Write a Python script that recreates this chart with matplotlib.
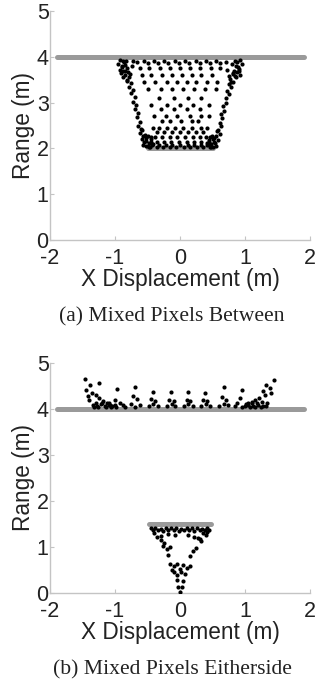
import matplotlib
matplotlib.use("Agg")
import matplotlib.pyplot as plt

# ---- panel (a): mixed pixels between ----
a_wall_x = [-1.9, 1.9]          # back wall at 4 m
a_wall_y = [4.0, 4.0]
a_box_x = [-0.5, 0.5]           # near object at 2 m
a_box_y = [2.0, 2.0]

a_left_x = [-0.93, -0.88, -0.95, -0.85, -0.90, -0.82, -0.88, -0.80, -0.84, -0.78,
            -0.82, -0.76, -0.79, -0.73, -0.76, -0.70, -0.72, -0.67, -0.69, -0.64,
            -0.66, -0.62, -0.64, -0.60, -0.62, -0.57, -0.59, -0.55, -0.57, -0.52,
            -0.48, -0.45, -0.50, -0.86, -0.91, -0.87, -0.83, -0.74, -0.58, -0.54,
            -0.92, -0.89, -0.84, -0.81, -0.77, -0.52, -0.49, -0.53, -0.47, -0.42]
a_left_y = [3.92, 3.90, 3.85, 3.82, 3.78, 3.75, 3.70, 3.66, 3.60, 3.55,
            3.48, 3.42, 3.35, 3.28, 3.20, 3.12, 3.02, 2.95, 2.85, 2.78,
            2.68, 2.58, 2.50, 2.42, 2.34, 2.28, 2.20, 2.14, 2.08, 2.05,
            2.12, 2.20, 2.28, 3.88, 3.65, 3.55, 3.90, 3.80, 2.40, 2.30,
            3.72, 3.80, 3.70, 3.50, 3.62, 2.22, 2.06, 2.16, 2.02, 2.10]
a_right_x = [0.93, 0.88, 0.95, 0.86, 0.91, 0.83, 0.87, 0.81, 0.85, 0.77,
             0.81, 0.75, 0.78, 0.72, 0.75, 0.70, 0.71, 0.66, 0.68, 0.63,
             0.65, 0.61, 0.63, 0.59, 0.61, 0.56, 0.58, 0.54, 0.56, 0.51,
             0.47, 0.45, 0.49, 0.89, 0.92, 0.84, 0.80, 0.73, 0.57, 0.53,
             0.90, 0.86, 0.82, 0.78, 0.76, 0.52, 0.48, 0.50, 0.46, 0.42]
a_right_y = [3.93, 3.88, 3.84, 3.80, 3.74, 3.70, 3.66, 3.62, 3.57, 3.52,
             3.46, 3.40, 3.33, 3.25, 3.18, 3.10, 3.00, 2.92, 2.82, 2.75,
             2.66, 2.56, 2.48, 2.40, 2.32, 2.26, 2.18, 2.12, 2.06, 2.04,
             2.10, 2.18, 2.26, 3.78, 3.60, 3.90, 3.85, 3.72, 2.38, 2.22,
             3.68, 3.55, 3.64, 3.46, 3.58, 2.14, 2.03, 2.20, 2.08, 2.12]

a_in_x = [-0.72, -0.66, -0.56, -0.50, -0.40, -0.34, -0.24, -0.18, -0.08, -0.02,
          0.08, 0.14, 0.24, 0.30, 0.40, 0.46, 0.56, 0.62, 0.70,
          -0.62, -0.47, -0.31, -0.15, 0.00, 0.15, 0.31, 0.47, 0.62,
          -0.58, -0.44, -0.28, -0.12, 0.03, 0.18, 0.33, 0.49,
          -0.55, -0.38, -0.20, -0.05, 0.10, 0.25, 0.42, 0.57,
          -0.50, -0.30, -0.13, 0.05, 0.22, 0.38, 0.55,
          -0.32, -0.10, 0.12, 0.33,
          -0.45, -0.20, 0.00, 0.20, 0.44,
          -0.30, -0.10, 0.10, 0.30,
          -0.40, -0.22, -0.05, 0.15, 0.32, 0.45,
          -0.28, -0.15, 0.02, 0.18, 0.28,
          -0.42, -0.33, -0.20, -0.08, 0.05, 0.18, 0.32, 0.42,
          -0.35, -0.25, -0.12, 0.00, 0.12, 0.25, 0.36,
          -0.45, -0.38, -0.28, -0.15, -0.05, 0.08, 0.20, 0.30, 0.40, 0.46,
          -0.45, -0.36, -0.25, -0.14, -0.02, 0.10, 0.22, 0.33, 0.44,
          -0.43, -0.33, -0.22, -0.12, 0.00, 0.12, 0.22, 0.32, 0.42,
          -0.46, -0.36, -0.26, -0.16, -0.06, 0.06, 0.16, 0.26, 0.36, 0.46]
a_in_y = [3.90, 3.88, 3.90, 3.87, 3.90, 3.86, 3.90, 3.87, 3.90, 3.86,
          3.90, 3.87, 3.90, 3.86, 3.90, 3.87, 3.90, 3.86, 3.88,
          3.75, 3.75, 3.75, 3.75, 3.75, 3.75, 3.75, 3.75, 3.75,
          3.60, 3.60, 3.60, 3.60, 3.60, 3.60, 3.60, 3.60,
          3.45, 3.45, 3.45, 3.45, 3.45, 3.45, 3.45, 3.45,
          3.30, 3.30, 3.30, 3.30, 3.30, 3.30, 3.30,
          3.10, 3.10, 3.10, 3.10,
          2.95, 2.95, 2.95, 2.95, 2.95,
          2.85, 2.85, 2.85, 2.85,
          2.70, 2.70, 2.70, 2.70, 2.70, 2.70,
          2.60, 2.60, 2.60, 2.60, 2.60,
          2.45, 2.45, 2.45, 2.45, 2.45, 2.45, 2.45, 2.45,
          2.35, 2.35, 2.35, 2.35, 2.35, 2.35, 2.35,
          2.25, 2.25, 2.25, 2.25, 2.25, 2.25, 2.25, 2.25, 2.25, 2.25,
          2.15, 2.15, 2.15, 2.15, 2.15, 2.15, 2.15, 2.15, 2.15,
          2.08, 2.08, 2.08, 2.08, 2.08, 2.08, 2.08, 2.08, 2.08,
          2.03, 2.03, 2.03, 2.03, 2.03, 2.03, 2.03, 2.03, 2.03, 2.03]

# ---- panel (b): mixed pixels either side ----
b_wall_x = [-1.9, 1.9]
b_wall_y = [4.0, 4.0]
b_box_x = [-0.48, 0.48]
b_box_y = [1.5, 1.5]

b_top_x = [-1.46, -1.38, -1.25, -1.45, -1.36, -1.30, -1.24, -1.18, -1.12, -1.08,
           -1.34, -1.28, -1.22, -1.16, -1.10, -1.04, -0.98, -1.30, -1.20, -1.10,
           -1.00, -1.42, -1.40, -1.32, -1.26, -1.14, -1.06,
           -0.97, -1.00, -0.92, -0.88, -0.84,
           -0.69, -0.72, -0.66, -0.76, -0.62, -0.70,
           -0.41, -0.44, -0.38, -0.48, -0.34, -0.42,
           -0.14, -0.17, -0.10, -0.20, -0.08, -0.13,
           0.13, 0.10, 0.16, 0.06, 0.20, 0.12,
           0.39, 0.36, 0.42, 0.32, 0.46, 0.40,
           0.68, 0.65, 0.70, 0.60, 0.74, 0.67,
           0.95, 0.92, 0.88, 0.84,
           1.45, 1.33, 1.38, 1.28, 1.40, 1.30, 1.22, 1.15, 1.10, 1.05,
           1.00, 0.96, 1.05, 1.12, 1.20, 1.28, 1.34, 1.02, 1.10, 1.18, 1.26,
           1.08, 1.16, 1.24, 1.32]
b_top_y = [4.65, 4.52, 4.57, 4.41, 4.35, 4.30, 4.24, 4.18, 4.12, 4.09,
           4.08, 4.07, 4.10, 4.06, 4.08, 4.06, 4.05, 4.13, 4.12, 4.13,
           4.09, 4.28, 4.20, 4.05, 4.05, 4.05, 4.04,
           4.43, 4.20, 4.12, 4.08, 4.05,
           4.48, 4.28, 4.22, 4.10, 4.08, 4.05,
           4.37, 4.22, 4.18, 4.06, 4.07, 4.10,
           4.37, 4.20, 4.18, 4.06, 4.07, 4.10,
           4.37, 4.20, 4.18, 4.06, 4.07, 4.10,
           4.35, 4.20, 4.18, 4.06, 4.07, 4.10,
           4.48, 4.26, 4.20, 4.06, 4.08, 4.10,
           4.41, 4.25, 4.12, 4.06,
           4.63, 4.52, 4.46, 4.40, 4.34, 4.30, 4.25, 4.20, 4.15, 4.13,
           4.06, 4.05, 4.08, 4.06, 4.09, 4.07, 4.12, 4.11, 4.12, 4.14, 4.16,
           4.04, 4.05, 4.04, 4.06]

b_low_x = [-0.45, -0.38, -0.30, -0.22, -0.14, -0.06, 0.02, 0.10, 0.18, 0.26,
           0.34, 0.42, -0.42, -0.34, -0.26, -0.18, -0.10, -0.02, 0.06, 0.14,
           0.22, 0.30, 0.38, 0.45,
           -0.40, -0.35, -0.30, -0.25, 0.35, 0.40, 0.28, 0.32, 0.42,
           -0.30, -0.18, -0.08, 0.12, 0.22, 0.30,
           -0.26, -0.20, -0.15, 0.20, 0.25,
           -0.18, 0.15,
           -0.15, -0.10, -0.05, 0.05, 0.10, 0.15, -0.12, 0.00,
           -0.10, -0.05, 0.02, 0.08,
           -0.05, 0.05, -0.03, 0.03, 0.00]
b_low_y = [1.42, 1.42, 1.40, 1.42, 1.41, 1.42, 1.40, 1.42, 1.41, 1.42,
           1.40, 1.42, 1.36, 1.37, 1.35, 1.36, 1.37, 1.35, 1.36, 1.37,
           1.35, 1.36, 1.37, 1.38,
           1.30, 1.22, 1.15, 1.08, 1.30, 1.25, 1.20, 1.12, 1.32,
           1.24, 1.28, 1.25, 1.27, 1.22, 1.18,
           1.02, 0.96, 1.00, 0.92, 0.98,
           0.82, 0.80,
           0.62, 0.58, 0.64, 0.60, 0.55, 0.58, 0.50, 0.52,
           0.45, 0.40, 0.46, 0.42,
           0.28, 0.25, 0.12, 0.14, 0.02]

GRAY = "#9a9a9a"
SPINE = "#c4c4c4"
TEXT = "#222222"

plt.rcParams["font.family"] = ["Liberation Sans", "DejaVu Sans"]
fig = plt.figure(figsize=(3.2, 6.83), dpi=100)

ax_a = fig.add_axes([0.15625, 0.6486, 0.8125, 0.3353])
ax_b = fig.add_axes([0.15625, 0.1318, 0.8125, 0.3367])


def style(ax):
    ax.set_xlim(-2, 2)
    ax.set_ylim(0, 5)
    ax.set_xticks([-2, -1, 0, 1, 2])
    ax.set_yticks([0, 1, 2, 3, 4, 5])
    ax.set_xticklabels(["-2", "-1", "0", "1", "2"])
    for s in ["top", "right"]:
        ax.spines[s].set_visible(False)
    for s in ["left", "bottom"]:
        ax.spines[s].set_color(SPINE)
        ax.spines[s].set_linewidth(1.0)
    ax.tick_params(direction="in", length=3, color=SPINE, labelcolor=TEXT,
                   labelsize=15.5)
    ax.tick_params(axis="y", pad=1)
    ax.tick_params(axis="x", pad=6)
    ax.set_xlabel("X Displacement (m)", fontsize=16.3, color=TEXT, labelpad=-1)
    ax.set_ylabel("Range (m)", fontsize=16.3, color=TEXT, labelpad=1)


for ax in (ax_a, ax_b):
    style(ax)

ax_a.plot(a_wall_x, a_wall_y, color=GRAY, lw=3.6, solid_capstyle="round", zorder=2)
ax_a.plot(a_box_x, a_box_y, color=GRAY, lw=3.6, solid_capstyle="round", zorder=2)
ax_a.scatter(a_left_x + a_right_x + a_in_x, a_left_y + a_right_y + a_in_y,
             s=9, color="black", linewidths=0, zorder=3)

ax_b.plot(b_wall_x, b_wall_y, color=GRAY, lw=3.6, solid_capstyle="round", zorder=2)
ax_b.plot(b_box_x, b_box_y, color=GRAY, lw=3.6, solid_capstyle="round", zorder=2)
ax_b.scatter(b_top_x + b_low_x, b_top_y + b_low_y,
             s=9, color="black", linewidths=0, zorder=3)

fig.text(172 / 320, 1 - 317 / 683, "(a) Mixed Pixels Between", ha="center", va="center",
         fontsize=15.6, family="Liberation Serif", color=TEXT)
fig.text(172 / 320, 1 - 670 / 683, "(b) Mixed Pixels Eitherside", ha="center", va="center",
         fontsize=15.6, family="Liberation Serif", color=TEXT)

fig.savefig("out.png", dpi=100)
